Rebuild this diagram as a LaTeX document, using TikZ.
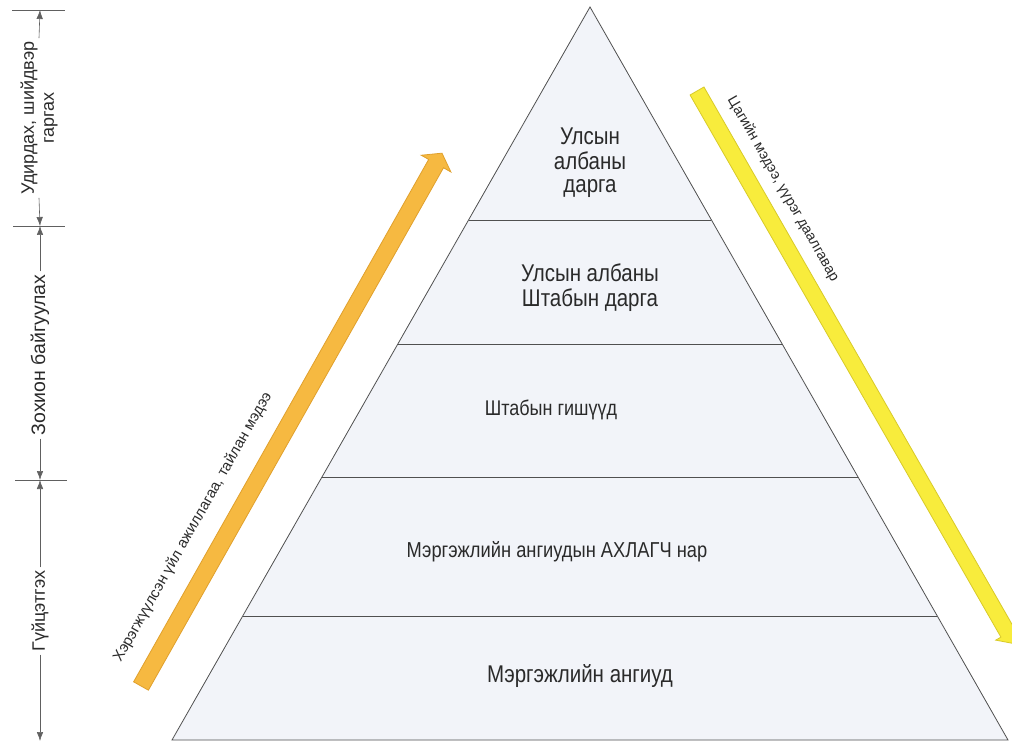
\documentclass[tikz,border=0pt]{standalone}
\usepackage{graphicx}
\usepackage{fontspec}
\setmainfont{Liberation Sans}
\usetikzlibrary{calc,arrows.meta}
\definecolor{pyrfill}{HTML}{F2F4F9}
\definecolor{pyrline}{HTML}{505050}
\definecolor{orangefill}{HTML}{F6B941}
\definecolor{orangeedge}{HTML}{E0A02C}
\definecolor{yellowfill}{HTML}{F8EC3C}
\definecolor{yellowedge}{HTML}{D8CA28}
\definecolor{txt}{HTML}{2A2A2A}
\definecolor{axisc}{HTML}{606060}
\newcommand{\tallstack}[1]{\scalebox{1}[1.18]{\begin{tabular}{@{}c@{}}#1\end{tabular}}}
\begin{document}
\begin{tikzpicture}[x=1pt,y=1pt,
  lvl/.style={text=txt, align=center, inner sep=0pt},
  side/.style={text=txt, inner sep=1pt},
  axlab/.style={font=\fontsize{18}{20}\selectfont, text=txt, align=center, rotate=90, inner sep=3pt},
  tickline/.style={draw=axisc, line width=0.6pt},
  dimline/.style={draw=axisc, line width=0.6pt, -{Latex[length=9pt,width=6.5pt]}},
  pyredge/.style={draw=pyrline, line width=0.8pt},
]
\fill[white] (0,0) rectangle (1012,-743);
\useasboundingbox (0,0) rectangle (1012,-743);
\clip (0,0) rectangle (1012,-743);

% pyramid
\coordinate (apex) at (590,-7);
\coordinate (bl) at (172,-740);
\coordinate (br) at (1008,-740);
\fill[pyrfill] (apex) -- (bl) -- (br) -- cycle;
\foreach \yy in {220,344,477,616}{
  \draw[pyredge] ($(apex)!{(\yy-7)/733}!(bl)$) -- ($(apex)!{(\yy-7)/733}!(br)$);
}
\draw[pyredge, line join=miter] (apex) -- (bl) -- (br) -- cycle;

\node[lvl, font=\fontsize{20.5}{20}\selectfont] (l1) at (590,-164) {\tallstack{Улсын\\албаны\\дарга}};
\node[lvl, font=\fontsize{20.5}{21.2}\selectfont] (l2) at (590,-289) {\tallstack{Улсын албаны\\Штабын дарга}};
\node[lvl, font=\fontsize{18}{20}\selectfont] (l3) at (551,-411) {\tallstack{Штабын гишүүд}};
\node[lvl, font=\fontsize{18.3}{20}\selectfont] (l4) at (557,-553) {\tallstack{Мэргэжлийн ангиудын АХЛАГЧ нар}};
\node[lvl, font=\fontsize{20.5}{21}\selectfont] (l5) at (580,-677) {\tallstack{Мэргэжлийн ангиуд}};

% left axis
\coordinate (t0) at (40,-10);
\coordinate (t1) at (40,-226);
\coordinate (t2) at (40,-480);
\coordinate (t3) at (40,-741);
\draw[tickline] (12,-10) -- (65,-10);
\draw[tickline] (13,-226) -- (65,-226);
\draw[tickline] (15,-480) -- (67,-480);
\node[axlab] (a1) at (39,-118) {Удирдах, шийдвэр\\гаргах};
\node[axlab, font=\fontsize{19.5}{21}\selectfont] (a2) at (40,-355) {Зохион байгуулах};
\node[axlab] (a3) at (40,-611) {Гүйцэтгэх};
\draw[dimline] (a1.east) -- (t0);
\draw[dimline] (a1.west) -- (t1);
\draw[dimline] (a2.east) -- (t1);
\draw[dimline] (a2.west) -- (t2);
\draw[dimline] (a3.east) -- (t2);
\draw[dimline] (a3.west) -- (t3);

% orange arrow (up)
\begin{scope}[shift={(141,-686)}, rotate=60.54]
  \filldraw[fill=orangefill, draw=orangeedge, line width=0.8pt, line join=miter]
    (0,-8.5) -- (600,-8.5) -- (600,-17) -- (612,0) -- (600,17) -- (600,8.5) -- (0,8.5) -- cycle;
\end{scope}
\node[side, font=\fontsize{15}{17}\selectfont, rotate=60.54] (ol) at (193,-527) {Хэрэгжүүлсэн үйл ажиллагаа, тайлан мэдээ};

% yellow arrow (down)
\begin{scope}[shift={(697,-91)}, rotate=-60.17]
  \filldraw[fill=yellowfill, draw=yellowedge, line width=0.8pt, line join=miter]
    (0,-8) -- (625,-8) -- (625,-14) -- (637,0) -- (625,14) -- (625,8) -- (0,8) -- cycle;
\end{scope}
\node[side, font=\fontsize{14.5}{17}\selectfont, rotate=-60.17] (yl) at (783,-189) {Цагийн мэдээ, үүрэг даалгавар};
\end{tikzpicture}
\end{document}
